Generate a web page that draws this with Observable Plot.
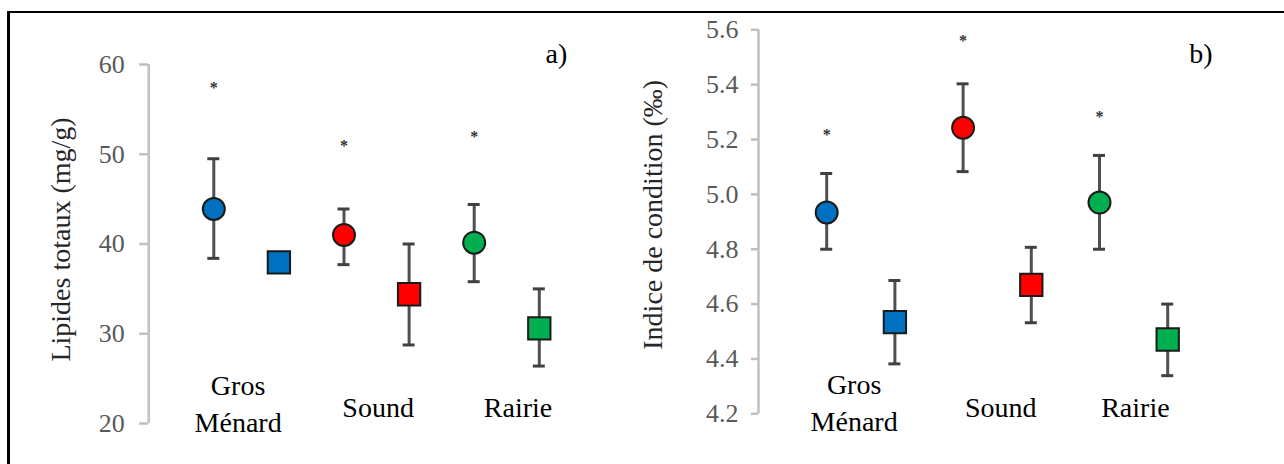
<!DOCTYPE html>
<html><head><meta charset="utf-8">
<script src="https://cdn.jsdelivr.net/npm/d3@7"></script>
<script src="https://cdn.jsdelivr.net/npm/@observablehq/plot@0.6"></script>
<style>
html,body{margin:0;padding:0;background:#fff;width:1284px;height:464px;overflow:hidden;}
#frame{position:absolute;left:7px;top:11px;width:1400px;height:600px;border-left:3px solid #000;border-top:2px solid #000;}
#a{position:absolute;left:0;top:0;}
#b{position:absolute;left:640px;top:0;}
svg{overflow:visible;}
</style></head><body>
<div id="frame"></div><div id="a"></div><div id="b"></div>
<script>
// Categories
const sites = ["Gros Ménard", "Sound", "Rairie"];
const siteLabels = ["Gros\nMénard", "Sound", "Rairie"];
const siteColors = ["#0070c0", "#ff0000", "#00b050"];

// a) Lipides totaux (mg/g)
const lipTicks = [20, 30, 40, 50, 60];
const lipCircleMean = [43.9, 41.0, 40.15];
const lipCircleLow  = [38.4, 37.7, 35.8];
const lipCircleHigh = [49.5, 43.9, 44.4];
const lipSquareMean = [37.95, 34.4, 30.6];
const lipSquareLow  = [37.3, 28.75, 26.4];
const lipSquareHigh = [38.6, 40.0, 35.0];
const lipStar = [57.8, 51.35, 52.35];

// b) Indice de condition (‰)
const condTicks = [4.2, 4.4, 4.6, 4.8, 5.0, 5.2, 5.4, 5.6];
const condCircleMean = [4.934, 5.243, 4.97];
const condCircleLow  = [4.80, 5.083, 4.80];
const condCircleHigh = [5.076, 5.403, 5.142];
const condSquareMean = [4.534, 4.67, 4.471];
const condSquareLow  = [4.382, 4.532, 4.339];
const condSquareHigh = [4.686, 4.807, 4.60];
const condStar = [5.232, 5.575, 5.296];

const FONT = "Liberation Serif, Tinos, DejaVu Serif, Times New Roman, Times, serif";

function buildRows(cm, cl, ch, sm, sl, sh) {
  const rows = [];
  sites.forEach((s, i) => {
    rows.push({site: s, kind: "circle", pos: i * 2 + 1, mean: cm[i], low: cl[i], high: ch[i], color: siteColors[i]});
    rows.push({site: s, kind: "square", pos: i * 2 + 2, mean: sm[i], low: sl[i], high: sh[i], color: siteColors[i]});
  });
  return rows;
}

function panel(o) {
  const rows = buildRows(...o.series);
  const stars = sites.map((s, i) => ({pos: i * 2 + 1, v: o.stars[i]}));
  const caps = rows.flatMap(d => [{pos: d.pos, v: d.low}, {pos: d.pos, v: d.high}]);
  const unit = (o.width - o.ml - o.mr) / 7;
  const cap = 6 / unit;
  const svg = Plot.plot({
    width: o.width, height: 464,
    marginLeft: o.ml, marginRight: o.mr, marginTop: o.mt, marginBottom: o.mb,
    style: {background: "transparent", overflow: "visible"},
    x: {domain: [0, 7], axis: null},
    y: {domain: o.yDomain, label: null},
    color: {type: "identity"},
    marks: [
      Plot.ruleX([{x: 0, y1: o.yDomain[0], y2: o.yDomain[1]}], {x: "x", y1: "y1", y2: "y2", stroke: "#c0c0c0", strokeWidth: 2.5}),
      Plot.axisY(o.ticks, {tickSize: o.tickSize, tickPadding: o.tickPadding, tickFormat: o.tickFmt, fontSize: 26, fontFamily: FONT, color: "#595959", fill: "#595959", stroke: "#c0c0c0", strokeWidth: 2.5, label: null}),
      Plot.ruleX(rows, {x: "pos", y1: "low", y2: "high", stroke: "#505050", strokeWidth: 3}),
      Plot.ruleY(caps, {y: "v", x1: d => d.pos - cap, x2: d => d.pos + cap, stroke: "#404040", strokeWidth: 3}),
      Plot.dot(rows.filter(d => d.kind === "circle"), {x: "pos", y: "mean", r: 11, fill: "color", stroke: "#1a1a1a", strokeWidth: 2}),
      Plot.dot(rows.filter(d => d.kind === "square"), {x: "pos", y: "mean", symbol: "square", r: 12.6, fill: "color", stroke: "#1a1a1a", strokeWidth: 2}),
      Plot.text(stars, {x: "pos", y: "v", text: () => "*", fontSize: 16, fontWeight: "bold", fontFamily: FONT, fill: "#333", dy: 4}),
      Plot.text(siteLabels, {x: (d, i) => o.labelX[i], y: (d, i) => o.labelY[i], text: d => d, fontSize: 28, fontFamily: FONT, lineHeight: 1.32, fill: "#000"}),
      Plot.text([o.tag], {x: o.tagX, y: o.tagY, text: d => d, fontSize: 28, fontFamily: FONT, fill: "#000"}),
      Plot.text([o.title], {frameAnchor: "left", rotate: -90, textAnchor: "middle", lineAnchor: "middle", dx: o.titleDx, dy: o.titleDy, text: d => d, fontSize: 28, fontFamily: FONT, fill: "#262626"})
    ]
  });
  svg.setAttribute("font-family", FONT);
  svg.querySelectorAll("text, g").forEach(el => { if (el.hasAttribute("font-family")) el.setAttribute("font-family", FONT); });
  return svg;
}

document.getElementById("a").append(panel({
  width: 640, ml: 148.2, mr: 36.1, mt: 64, mb: 41,
  yDomain: [20, 60], ticks: lipTicks, tickFmt: d => String(d), tickSize: 9, tickPadding: 15,
  series: [lipCircleMean, lipCircleLow, lipCircleHigh, lipSquareMean, lipSquareLow, lipSquareHigh],
  stars: lipStar,
  labelX: [1.373, 3.524, 5.674], labelY: [22.45, 22.0, 22.0],
  tag: "a)", tagX: 6.264, tagY: 61.2,
  title: "Lipides totaux (mg/g)", titleDx: -88, titleDy: -4.5
}));

document.getElementById("b").append(panel({
  width: 644, ml: 118, mr: 48.6, mt: 29.3, mb: 50.7,
  yDomain: [4.2, 5.6], ticks: condTicks, tickFmt: d => d.toFixed(1), tickSize: 7, tickPadding: 13,
  series: [condCircleMean, condCircleLow, condCircleHigh, condSquareMean, condSquareLow, condSquareHigh],
  stars: condStar,
  labelX: [1.402, 3.551, 5.526], labelY: [4.247, 4.23, 4.23],
  tag: "b)", tagX: 6.488, tagY: 5.51,
  title: "Indice de condition (‰)", titleDx: -105, titleDy: -7
}));
</script>
</body></html>
